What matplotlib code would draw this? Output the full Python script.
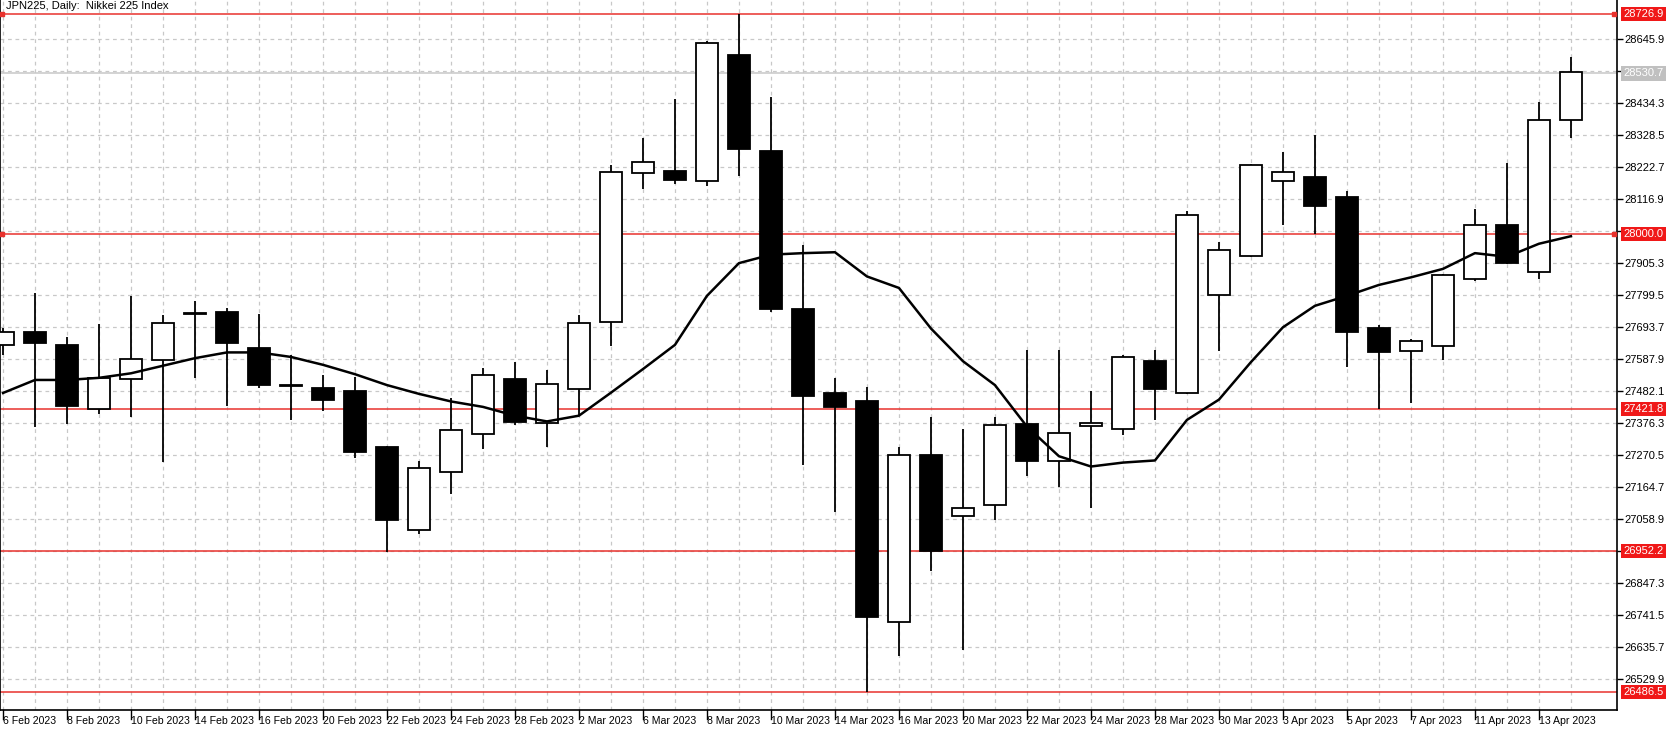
import numpy as np
import matplotlib.pyplot as plt

plt.rcParams['font.family'] = ['Liberation Sans', 'DejaVu Sans']

# JPN225 daily candles, 6 Feb - 14 Apr 2023
dates = ['6 Feb', '7 Feb', '8 Feb', '9 Feb', '10 Feb', '13 Feb', '14 Feb', '15 Feb', '16 Feb', '17 Feb',
         '20 Feb', '21 Feb', '22 Feb', '23 Feb', '24 Feb', '27 Feb', '28 Feb', '1 Mar', '2 Mar', '3 Mar',
         '6 Mar', '7 Mar', '8 Mar', '9 Mar', '10 Mar', '13 Mar', '14 Mar', '15 Mar', '16 Mar', '17 Mar',
         '20 Mar', '21 Mar', '22 Mar', '23 Mar', '24 Mar', '27 Mar', '28 Mar', '29 Mar', '30 Mar', '31 Mar',
         '3 Apr', '4 Apr', '5 Apr', '6 Apr', '7 Apr', '10 Apr', '11 Apr', '12 Apr', '13 Apr', '14 Apr']
opens = [27634, 27675, 27634, 27421, 27522, 27584, 27735, 27744, 27623, 27499,
         27491, 27482, 27295, 27022, 27214, 27338, 27522, 27375, 27489, 27711,
         28203, 28210, 28177, 28591, 28275, 27751, 27476, 27450, 26719, 27269,
         27068, 27104, 27371, 27250, 27367, 27357, 27580, 27475, 27800, 27929,
         28177, 28187, 28124, 27689, 27614, 27630, 27853, 28030, 27876, 28378]
highs = [27690, 27804, 27659, 27702, 27797, 27732, 27778, 27755, 27735, 27601,
         27534, 27528, 27299, 27251, 27457, 27557, 27577, 27551, 27732, 28227,
         28316, 28446, 28637, 28728, 28452, 27964, 27525, 27496, 27298, 27397,
         27357, 27397, 27617, 27616, 27480, 27601, 27616, 28075, 27974, 28232,
         28270, 28327, 28141, 27701, 27653, 27868, 28083, 28236, 28436, 28585]
lows = [27600, 27364, 27371, 27407, 27396, 27246, 27525, 27432, 27493, 27386,
        27414, 27259, 26950, 27010, 27140, 27289, 27370, 27296, 27400, 27629,
        28150, 28165, 28158, 28193, 27744, 27237, 27083, 26486, 26607, 26888,
        26626, 27056, 27200, 27165, 27094, 27335, 27386, 27472, 27614, 27925,
        28030, 28000, 27561, 27421, 27443, 27583, 27845, 27900, 27853, 28316]
closes = [27675, 27640, 27432, 27525, 27588, 27705, 27737, 27640, 27502, 27498,
          27453, 27279, 27055, 27226, 27352, 27534, 27378, 27505, 27705, 28206,
          28239, 28180, 28630, 28280, 27754, 27465, 27429, 26734, 27269, 26954,
          27096, 27370, 27250, 27342, 27375, 27594, 27488, 28063, 27947, 28229,
          28206, 28092, 27678, 27611, 27646, 27865, 28030, 27904, 28378, 28535]
ma = [27475, 27518, 27518, 27525, 27540, 27565, 27590, 27609, 27609, 27594,
      27568, 27537, 27501, 27472, 27447, 27429, 27400, 27381, 27400, 27476,
      27554, 27634, 27796, 27904, 27932, 27937, 27940, 27860, 27822, 27688,
      27580, 27501, 27364, 27266, 27232, 27245, 27252, 27386, 27453, 27577,
      27692, 27763, 27796, 27832, 27857, 27885, 27937, 27925, 27968, 27993]

levels = [28726.9, 28000.0, 27421.8, 26952.2, 26486.5]
last_price = 28530.7
ticks = [28645.9, 28540.1, 28434.3, 28328.5, 28222.7, 28116.9, 28011.1, 27905.3,
         27799.5, 27693.7, 27587.9, 27482.1, 27376.3, 27270.5, 27164.7, 27058.9, 26953.1,
         26847.3, 26741.5, 26635.7, 26529.9]
hidden_ticks = [28540.1, 28011.1, 26953.1]
top_label = 28751.7

fig = plt.figure(figsize=(16.7, 7.31), dpi=100)
ax = fig.add_axes([0.0, 21 / 731, 1617 / 1670, 1 - 21 / 731])

x = np.arange(len(dates))
w = 0.68
for i in x:
    o, h, l, c = opens[i], highs[i], lows[i], closes[i]
    ax.vlines(i, l, h, color='black', lw=1.3, zorder=3)
    up = c >= o
    ax.bar(i, max(abs(c - o), 3), bottom=min(o, c), width=w,
           color='white' if up else 'black', edgecolor='black', lw=1.3, zorder=4)

ax.plot(x, ma, color='black', lw=1.8, zorder=5)

for lv in levels:
    ax.axhline(lv, color='#e8322d', lw=1.1, zorder=2)
    ax.text(1.004, lv, f'{lv:.1f}', transform=ax.get_yaxis_transform(), va='center', ha='left',
            fontsize=8, color='white', zorder=10, clip_on=False,
            bbox=dict(boxstyle='square,pad=0.2', fc='#f01818', ec='none'))
for lv in levels[:2]:
    ax.plot([-0.02, 50.35], [lv, lv], 's', color='#e8322d', ms=3.5, zorder=6, clip_on=False)
ax.axhline(last_price, color='#c8c8c8', lw=1.1, zorder=2)
ax.text(1.004, last_price, f'{last_price:.1f}', transform=ax.get_yaxis_transform(), va='center',
        ha='left', fontsize=8, color='white', zorder=10, clip_on=False,
        bbox=dict(boxstyle='square,pad=0.2', fc='#c0c0c0', ec='none'))
# top scale value, mostly hidden at the upper edge
ax.text(1.006, 1.0, f'{top_label:.1f}', transform=ax.transAxes, va='bottom', ha='left',
        fontsize=7, clip_on=False)

ax.set_xlim(-0.094, 50.44)
ax.set_ylim(26427.5, 28773.4)

ax.yaxis.tick_right()
ax.set_yticks(ticks)
ax.set_yticklabels(['' if t in hidden_ticks else f'{t:.1f}' for t in ticks], fontsize=8)
ax.tick_params(axis='y', length=4, width=1, pad=1)
ax.set_xticks(x)
ax.set_xticklabels([d + ' 2023' if i % 2 == 0 else '' for i, d in enumerate(dates)], fontsize=7.6, ha='left')
ax.tick_params(axis='x', length=0, pad=4)
for i in x[::2]:
    ax.plot([i, i], [0, -0.012], color='black', lw=1, transform=ax.get_xaxis_transform(), clip_on=False)

ax.grid(True, color='#c8c8c8', ls=(0, (3, 3)), lw=0.9)
ax.set_axisbelow(True)
for s in ax.spines.values():
    s.set_color('black')
    s.set_linewidth(1.2)
ax.spines['top'].set_visible(False)

ax.text(0.004, 0.999, 'JPN225, Daily:  Nikkei 225 Index', transform=ax.transAxes, va='top', ha='left',
        fontsize=8, zorder=10)

fig.savefig('out.png', dpi=100, facecolor='white')
